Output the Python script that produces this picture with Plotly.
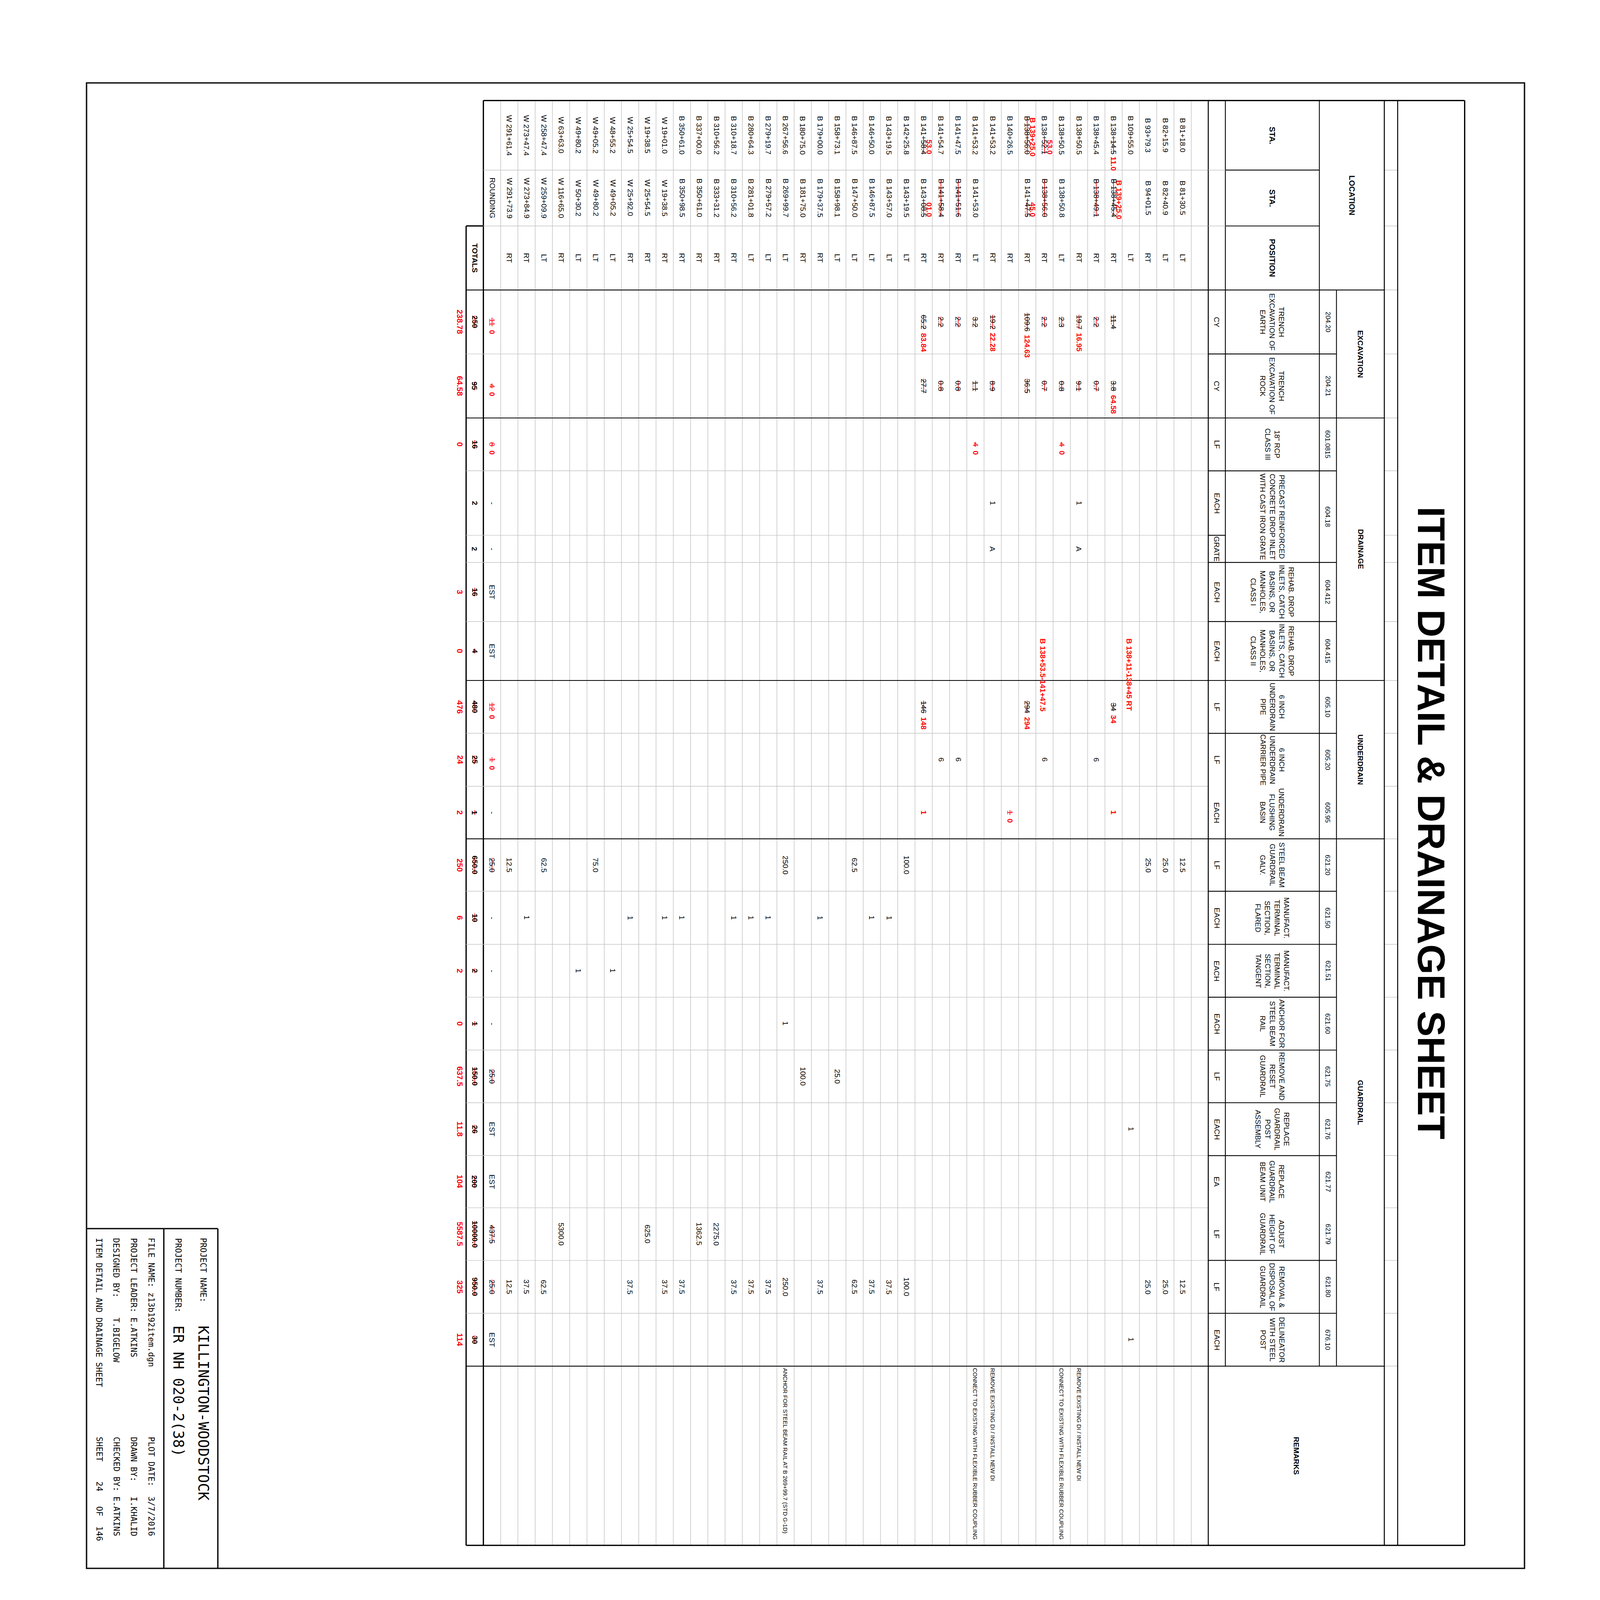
import plotly.graph_objects as go

# ---------------------------------------------------------------
# sheet content (rows 1-40 are the station lines of the table)
# ---------------------------------------------------------------
sta_from = [
    "B 81+18.0", "B 82+15.9", "B 93+79.3", "B 109+55.0", "B 138+14.5",
    "B 138+45.4", "B 138+50.5", "B 138+50.5", "B 138+52.1", "B 138+56.0",
    "B 140+26.5", "B 141+53.2", "B 141+53.2", "B 141+47.5", "B 141+54.7",
    "B 141+58.4", "B 142+25.8", "B 143+19.5", "B 146+50.0", "B 146+87.5",
    "B 158+73.1", "B 179+00.0", "B 180+75.0", "B 267+56.6", "B 279+19.7",
    "B 280+64.3", "B 310+18.7", "B 310+56.2", "B 337+00.0", "B 350+61.0",
    "W 19+01.0", "W 19+38.5", "W 25+54.5", "W 48+55.2", "W 49+05.2",
    "W 49+80.2", "W 63+63.0", "W 258+47.4", "W 273+47.4", "W 291+61.4",
]
sta_from_struck = {5: "14.5", 9: "52.1", 10: "B 138+56.0", 16: "58.4"}
sta_from_new = {5: "11.0", 9: "53.0", 10: "B 139+25.0", 16: "53.0"}

sta_to = [
    "B 81+30.5", "B 82+40.9", "B 94+01.5", "", "B 138+45.4",
    "B 138+49.1", "", "B 138+50.8", "B 138+56.0", "B 141+47.5",
    "", "", "B 141+53.0", "B 141+51.6", "B 141+58.4",
    "B 143+08.5", "B 143+19.5", "B 143+57.0", "B 146+87.5", "B 147+50.0",
    "B 158+98.1", "B 179+37.5", "B 181+75.0", "B 269+99.7", "B 279+57.2",
    "B 281+01.8", "B 310+56.2", "B 333+31.2", "B 350+61.0", "B 350+98.5",
    "W 19+38.5", "W 25+54.5", "W 25+92.0", "W 49+05.2", "W 49+80.2",
    "W 50+30.2", "W 116+65.0", "W 259+09.9", "W 273+84.9", "W 291+73.9",
]
sta_to_struck = {5: "B 138+45.4", 6: "B 138+49.1", 9: "B 138+56.0", 10: "47.5",
                 14: "B 141+51.6", 15: "B 141+58.4", 16: "08.5"}
sta_to_new = {5: "B 139+25.0", 10: "45.0", 16: "01.0"}

position = [
    "LT", "LT", "RT", "LT", "RT", "RT", "RT", "LT", "RT", "RT",
    "RT", "RT", "LT", "RT", "RT", "RT", "LT", "LT", "LT", "LT",
    "LT", "RT", "RT", "LT", "LT", "LT", "RT", "RT", "RT", "RT",
    "RT", "RT", "RT", "LT", "LT", "LT", "RT", "LT", "RT", "RT",
]

# cell strings: "old|new"  ("~" = struck out, "!" = struck out in red, new part in red)
q204_20 = {5: "~11.4", 6: "~2.2", 7: "~19.7|16.95", 8: "~2.3", 9: "~2.2", 10: "~109.6|124.63",
           12: "~19.2|22.28", 13: "~3.2", 14: "~2.2", 15: "~2.2", 16: "~65.2|83.84"}
q204_21 = {5: "~3.8|64.58", 6: "~0.7", 7: "~9.1", 8: "~0.8", 9: "~0.7", 10: "~36.5",
           12: "~8.9", 13: "~1.1", 14: "~0.8", 15: "~0.8", 16: "~27.7"}
q601_0815 = {8: "!4|0", 13: "!4|0"}
q604_18 = {7: "1", 12: "1"}
q604_18_grate = {7: "A", 12: "A"}
q604_412 = {}
q604_415 = {}
q605_10 = {5: "~34|34", 10: "~294|294", 16: "~146|148"}
q605_20 = {6: "6", 9: "6", 14: "6", 15: "6"}
q605_95 = {5: "|1", 11: "!1|0", 16: "|1"}
q621_20 = {1: "12.5", 2: "25.0", 3: "25.0", 17: "100.0", 20: "62.5", 24: "250.0",
           35: "75.0", 38: "62.5", 40: "12.5"}
q621_50 = {18: "1", 19: "1", 22: "1", 25: "1", 26: "1", 27: "1", 30: "1", 31: "1",
           33: "1", 39: "1"}
q621_51 = {34: "1", 36: "1"}
q621_60 = {24: "1"}
q621_75 = {21: "25.0", 23: "100.0"}
q621_76 = {4: "1"}
q621_77 = {}
q621_79 = {28: "2275.0", 29: "1362.5", 32: "625.0", 37: "5300.0"}
q621_80 = {1: "12.5", 2: "25.0", 3: "25.0", 17: "100.0", 18: "37.5", 19: "37.5", 20: "62.5",
           22: "37.5", 24: "250.0", 25: "37.5", 26: "37.5", 27: "37.5", 30: "37.5",
           31: "37.5", 33: "37.5", 38: "62.5", 39: "37.5", 40: "12.5"}
q676_10 = {4: "1"}

rounding = ["!11|0", "!4|0", "!8|0", "-", "-", "EST", "EST", "!12|0", "!1|0", "-",
            "~25.0", "-", "-", "-", "~25.0", "EST", "EST", "~437.5", "~25.0", "EST"]
totals = ["~250", "~95", "~16", "2", "2", "~16", "~4", "~480", "~25", "~1",
          "~650.0", "~10", "~2", "~1", "~150.0", "~26", "~200", "~10000.0", "~950.0", "~30"]
totals_revised = ["238.78", "64.58", "0", "", "", "3", "0", "476", "24", "2",
                  "250", "6", "2", "0", "637.5", "11.8", "104", "5587.5", "325", "114"]

inlet_notes = {4: "B 138+11-138+45 RT", 9: "B 138+53.5-141+47.5"}

remarks = {
    7: "REMOVE EXISTING DI / INSTALL NEW DI",
    8: "CONNECT TO EXISTING WITH FLEXIBLE RUBBER COUPLING",
    12: "REMOVE EXISTING DI / INSTALL NEW DI",
    13: "CONNECT TO EXISTING WITH FLEXIBLE RUBBER COUPLING",
    24: "ANCHOR FOR STEEL BEAM RAIL AT B 269+99.7 (STD G-1D)",
}

item_no = ["204.20", "204.21", "601.0815", "604.18", "604.412", "604.415", "605.10", "605.20",
           "605.95", "621.20", "621.50", "621.51", "621.60", "621.75", "621.76", "621.77",
           "621.79", "621.80", "676.10"]
item_desc = [
    "TRENCH<br>EXCAVATION OF<br>EARTH",
    "TRENCH<br>EXCAVATION OF<br>ROCK",
    '18" RCP<br>CLASS III',
    "PRECAST REINFORCED<br>CONCRETE DROP INLET<br>WITH CAST IRON GRATE",
    "REHAB. DROP<br>INLETS, CATCH<br>BASINS, OR<br>MANHOLES,<br>CLASS I",
    "REHAB. DROP<br>INLETS, CATCH<br>BASINS, OR<br>MANHOLES,<br>CLASS II",
    "6 INCH<br>UNDERDRAIN<br>PIPE",
    "6 INCH<br>UNDERDRAIN<br>CARRIER PIPE",
    "UNDERDRAIN<br>FLUSHING<br>BASIN",
    "STEEL BEAM<br>GUARDRAIL<br>GALV.",
    "MANUFACT.<br>TERMINAL<br>SECTION,<br>FLARED",
    "MANUFACT.<br>TERMINAL<br>SECTION,<br>TANGENT",
    "ANCHOR FOR<br>STEEL BEAM<br>RAIL",
    "REMOVE AND<br>RESET<br>GUARDRAIL",
    "REPLACE<br>GUARDRAIL<br>POST<br>ASSEMBLY",
    "REPLACE<br>GUARDRAIL<br>BEAM UNIT",
    "ADJUST<br>HEIGHT OF<br>GUARDRAIL",
    "REMOVAL &<br>DISPOSAL OF<br>GUARDRAIL",
    "DELINEATOR<br>WITH STEEL<br>POST",
]
item_subcols = [1, 1, 1, 2, 1, 1, 1, 1, 1, 1, 1, 1, 1, 1, 1, 1, 1, 1, 1]
units = ["CY", "CY", "LF", "EACH", "GRATE", "EACH", "EACH", "LF", "LF", "EACH",
         "LF", "EACH", "EACH", "EACH", "LF", "EACH", "EA", "LF", "LF", "EACH"]
groups = ["EXCAVATION", "DRAINAGE", "UNDERDRAIN", "GUARDRAIL"]
group_items = [2, 4, 3, 10]

title = "ITEM DETAIL & DRAINAGE SHEET"
tb_left = ["PROJECT NAME:", "PROJECT NUMBER:", "FILE NAME: z13b192item.dgn",
           "PROJECT LEADER: E.ATKINS", "DESIGNED BY:    T.BIGELOW",
           "ITEM DETAIL AND DRAINAGE SHEET"]
tb_big = ["KILLINGTON-WOODSTOCK", "ER NH 020-2(38)"]
tb_right = ["PLOT DATE:  3/7/2016", "DRAWN BY:   I.KHALID", "CHECKED BY: E.ATKINS",
            "SHEET    24   OF  146"]

qty_cols = [q204_20, q204_21, q601_0815, q604_18, q604_18_grate, q604_412, q604_415,
            q605_10, q605_20, q605_95, q621_20, q621_50, q621_51, q621_60, q621_75,
            q621_76, q621_77, q621_79, q621_80, q676_10]

# ---------------------------------------------------------------
# sheet geometry (sheet pixels, sheet is drawn rotated 90 deg)
# ---------------------------------------------------------------
W, H = 4680, 6900
ROW0_X, ROW_STEP = 3500.5, 50.5          # sheet x of row 0 and row pitch
COL_EDGES = [420, 720, 961, 1237, 1513, 1789, 2017, 2295, 2412, 2667, 2921, 3149, 3377,
             3604, 3830, 4059, 4287, 4515, 4742, 4970, 5195, 5422, 5650, 5878, 6651]
HDR_X0, UNIT_X1, DESC_X1, ITEM_X1, GRP_X1, STRIP_X1, TITLE_X1 = 3525, 3575, 3850, 3900, 4040, 4079, 4275
SANS = "Liberation Sans, Arial, sans-serif"
MONO = "DejaVu Sans Mono, Liberation Mono, monospace"
GRAY, BLACK, RED = "#c2c2c2", "#000000", "#ff0000"
RED_SHIFT = 0.32
ROUND_ROW, TOTAL_ROW, REVISED_ROW = 41, 42, 42.85

_W = {" ": 278, "+": 584, "-": 333, ".": 278, "/": 278, "(": 333, ")": 333, ",": 278,
      "A": 667, "B": 667, "C": 722, "D": 722, "E": 667, "F": 611, "G": 778, "H": 722,
      "I": 278, "L": 556, "M": 833, "N": 722, "O": 778, "P": 667, "R": 722, "S": 667,
      "T": 611, "U": 722, "V": 667, "W": 944, "X": 667, "Y": 667}
_WB = {"A": 722, "B": 722, "L": 611}


def text_w(s, size, bold=False):
    tot = 0
    for ch in s:
        if ch.isdigit():
            tot += 556
        elif bold and ch in _WB:
            tot += _WB[ch]
        else:
            tot += _W.get(ch, 600)
    return tot * size / 1000.0


def col_mid(c):
    return (COL_EDGES[c] + COL_EDGES[c + 1]) / 2.0


ann = []
shapes = []


def txt(x, y, s, size=30, color=BLACK, bold=False, xref="x2", yanchor="middle", family=SANS):
    ann.append(dict(x=x, y=y, xref=xref, yref="y", text=s, textangle=90, showarrow=False,
                    xanchor="center", yanchor=yanchor, borderpad=0, borderwidth=0,
                    font=dict(family=family, size=size, color=color,
                              weight="bold" if bold else "normal")))


def seg(x0, y0, x1, y1, color=BLACK, width=3, xref="x"):
    shapes.append(dict(type="line", xref=xref, yref="y", x0=x0, y0=y0, x1=x1, y1=y1,
                       line=dict(color=color, width=width)))


def strike(r, y0, y1):
    seg(r, y0 - 2, r, y1 + 2, RED, 2.5, xref="x2")


def cell(r, mid, spec, size=30, bold=False):
    old, _, new = spec.partition("|")
    struck = old[:1] in ("~", "!")
    color = RED if old.startswith("!") else BLACK
    old = old[1:] if struck else old
    if old:
        w = text_w(old, size, bold)
        txt(r, mid, old, size, color, bold)
        if struck:
            strike(r, mid - w / 2, mid + w / 2)
        if new:
            txt(r, mid + w / 2 + 18, new, size, RED, True, yanchor="top")
    elif new:
        txt(r, mid, new, size, RED, True)


def station(r, c, text, struck_part, new, after=False):
    if not text:
        return
    mid = col_mid(c)
    w = text_w(text, 30)
    start = mid - w / 2
    txt(r, mid, text)
    if struck_part:
        s0 = start + w - text_w(struck_part, 30)
        strike(r, s0, start + w)
        if new and after:
            txt(r, start + w + 14, new, 30, RED, True, yanchor="top")
        elif new:
            txt(r - RED_SHIFT, s0, new, 30, RED, True, yanchor="top")


# ---------------------------------------------------------------
# table body
# ---------------------------------------------------------------
for i in range(len(sta_from)):
    r = i + 1
    station(r, 0, sta_from[i], sta_from_struck.get(r), sta_from_new.get(r), after=(r == 5))
    station(r, 1, sta_to[i], sta_to_struck.get(r), sta_to_new.get(r))
    txt(r, col_mid(2), position[i])

txt(ROUND_ROW, col_mid(1), "ROUNDING")
txt(TOTAL_ROW, col_mid(2), "TOTALS", 30, bold=True)

for k, col in enumerate(qty_cols):
    mid = col_mid(3 + k)
    for r, spec in col.items():
        cell(r, mid, spec)
    cell(ROUND_ROW, mid, rounding[k])
    cell(TOTAL_ROW, mid, totals[k], bold=True)
    if totals_revised[k]:
        txt(REVISED_ROW, mid, totals_revised[k], 32, RED, True)

for r, note in inlet_notes.items():
    txt(r + 0.1, COL_EDGES[9] + 73, note, 30, RED, True, yanchor="top")

for r, note in remarks.items():
    txt(r, COL_EDGES[23] + 8, note, 23.5, yanchor="top")

# grid of the body
for k in range(1, 42):
    seg(k - 0.5, COL_EDGES[0], k - 0.5, COL_EDGES[-1], GRAY, 2, xref="x2")
seg(41.5, COL_EDGES[0], 41.5, COL_EDGES[-1], BLACK, 4.5, xref="x2")
seg(42.5, COL_EDGES[2], 42.5, COL_EDGES[-1], BLACK, 4.5, xref="x2")
seg(42.5, COL_EDGES[2], 41.5, COL_EDGES[2], BLACK, 4.5, xref="x2")

group_edges = [COL_EDGES[3]]
item_edges = []
pos = 3
for n in item_subcols:
    pos += n
    item_edges.append(COL_EDGES[pos])
acc = 0
for n in group_items:
    acc += n
    group_edges.append(item_edges[acc - 1])

for e in COL_EDGES[1:-1]:
    low = 42.5 if e >= COL_EDGES[3] else 41.5
    color, width = (BLACK, 3) if e in group_edges else (GRAY, 2)
    seg(low, e, -0.5, e, color, width, xref="x2")
    seg(GRP_X1, e, STRIP_X1, e, GRAY, 2)
seg(41.5, COL_EDGES[0], -0.5, COL_EDGES[0], BLACK, 4.5, xref="x2")
seg(42.5, COL_EDGES[-1], -0.5, COL_EDGES[-1], BLACK, 4.5, xref="x2")

# ---------------------------------------------------------------
# header block
# ---------------------------------------------------------------
UNIT_MID = (HDR_X0 + UNIT_X1) / 2
DESC_MID = (UNIT_X1 + DESC_X1) / 2
ITEM_MID = (DESC_X1 + ITEM_X1) / 2
GRP_MID = (ITEM_X1 + GRP_X1) / 2

for x in (HDR_X0, STRIP_X1, GRP_X1):
    seg(x, COL_EDGES[0], x, COL_EDGES[-1], BLACK, 3.5)
seg(TITLE_X1, COL_EDGES[0], TITLE_X1, COL_EDGES[-1], BLACK, 4.5)
seg(UNIT_X1, COL_EDGES[0], UNIT_X1, COL_EDGES[23], BLACK, 3)
seg(DESC_X1, COL_EDGES[0], DESC_X1, COL_EDGES[23], BLACK, 3)
seg(ITEM_X1, COL_EDGES[3], ITEM_X1, COL_EDGES[23], BLACK, 3)
seg(HDR_X0, COL_EDGES[0], TITLE_X1, COL_EDGES[0], BLACK, 4.5)
seg(HDR_X0, COL_EDGES[-1], TITLE_X1, COL_EDGES[-1], BLACK, 4.5)

for e in COL_EDGES[1:3]:
    seg(HDR_X0, e, UNIT_X1, e, GRAY, 2)
    seg(UNIT_X1, e, DESC_X1, e, BLACK, 3)
for e in group_edges:
    seg(HDR_X0, e, GRP_X1, e, BLACK, 3)
for e in item_edges:
    if e not in group_edges and e not in (COL_EDGES[12], COL_EDGES[20]):
        seg(HDR_X0, e, ITEM_X1, e, BLACK, 3)
seg(HDR_X0, COL_EDGES[7], UNIT_X1, COL_EDGES[7], BLACK, 3)

for c, lab in enumerate(["STA.", "STA.", "POSITION"]):
    txt(DESC_MID, col_mid(c), lab, 32, bold=True, xref="x")
txt((DESC_X1 + GRP_X1) / 2, (COL_EDGES[0] + COL_EDGES[3]) / 2, "LOCATION", 31, bold=True, xref="x")

for k, u in enumerate(units):
    txt(UNIT_MID, col_mid(3 + k), u, 30, xref="x")

pos = 3
for j, n in enumerate(item_subcols):
    y_mid = (COL_EDGES[pos] + COL_EDGES[pos + n]) / 2
    txt(ITEM_MID, y_mid, item_no[j], 27, xref="x")
    txt(DESC_MID, y_mid, item_desc[j], 29, xref="x")
    pos += n

for g, lab in enumerate(groups):
    txt(GRP_MID, (group_edges[g] + group_edges[g + 1]) / 2, lab, 30, bold=True, xref="x")
txt((HDR_X0 + GRP_X1) / 2, col_mid(23), "REMARKS", 30, bold=True, xref="x")

txt((STRIP_X1 + TITLE_X1) / 2, (COL_EDGES[0] + COL_EDGES[-1]) / 2, title, 154, bold=True, xref="x")

# ---------------------------------------------------------------
# sheet border and title block
# ---------------------------------------------------------------
SHEET = (244, 344, 4450, 6750)
TB_X1, TB_XM, TB_Y0 = 628, 470, 5285
shapes.append(dict(type="rect", xref="x", yref="y", x0=SHEET[0], y0=SHEET[1], x1=SHEET[2],
                   y1=SHEET[3], line=dict(color="#111111", width=5)))
seg(TB_X1, TB_Y0, TB_X1, SHEET[3], "#111111", 5)
seg(TB_XM, TB_Y0, TB_XM, SHEET[3], "#111111", 5)
seg(SHEET[0], TB_Y0, TB_X1, TB_Y0, "#111111", 5)

tb_rows_x = [586, 512, 433, 382, 331, 281]
for x, s in zip(tb_rows_x, tb_left):
    txt(x, 5325, s.replace(" ", "\u00a0"), 33, xref="x", yanchor="top", family=MONO)
for x, s in zip(tb_rows_x[:2], tb_big):
    txt(x, 5703, s, 58, xref="x", yanchor="top", family=MONO)
for x, s in zip(tb_rows_x[2:], tb_right):
    txt(x, 6183, s.replace(" ", "\u00a0"), 33, xref="x", yanchor="top", family=MONO)

# ---------------------------------------------------------------
fig = go.Figure()
fig.add_trace(go.Scatter(x=[0], y=[0], xaxis="x2", mode="markers", marker=dict(opacity=0),
                         showlegend=False, hoverinfo="skip"))
fig.update_layout(
    autosize=True,
    margin=dict(l=0, r=0, t=0, b=0),
    paper_bgcolor="white", plot_bgcolor="white",
    xaxis=dict(range=[0, W], visible=False, fixedrange=True),
    xaxis2=dict(range=[ROW0_X / ROW_STEP, (ROW0_X - W) / ROW_STEP], overlaying="x",
                anchor="y", visible=False, fixedrange=True),
    yaxis=dict(range=[H, 0], visible=False, fixedrange=True),
    showlegend=False,
    annotations=ann,
    shapes=shapes,
)

# the sheet fills the window; text and strokes follow the real window size
fit_js = """
var gd = document.getElementById('{plot_id}');
var fl = gd._fullLayout;
var sx = fl.width / %d, sy = fl.height / %d;
var k = sy * Math.min(1.08, Math.sqrt(sx / sy));
var lw = Math.sqrt(sx * sy);
if (Math.abs(k - 1) > 0.01) {
  var anns = gd.layout.annotations.map(function (a) {
    return Object.assign({}, a, {font: Object.assign({}, a.font, {size: a.font.size * k})});
  });
  var shp = gd.layout.shapes.map(function (s) {
    return Object.assign({}, s, {line: Object.assign({}, s.line, {width: Math.max(1, s.line.width * lw)})});
  });
  Plotly.relayout(gd, {annotations: anns, shapes: shp});
}
""" % (W, H)
fig.write_html("out.html", default_width="100vw", default_height="100vh", post_script=fit_js)
